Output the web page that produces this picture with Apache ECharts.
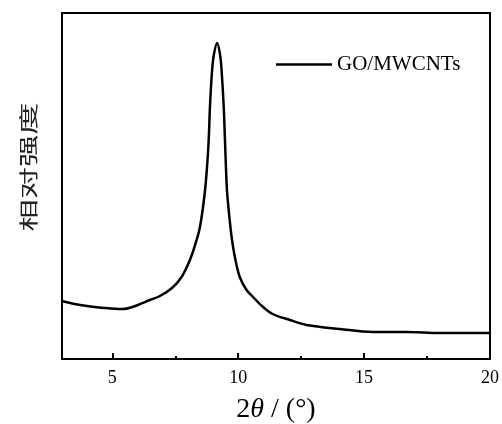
<!DOCTYPE html>
<html>
<head>
<meta charset="utf-8">
<script src="https://cdn.jsdelivr.net/npm/echarts@6/dist/echarts.min.js"></script>
<style>html,body{margin:0;padding:0;background:#fff}#c{width:502px;height:424px}</style>
</head>
<body>
<div id="c"></div>
<script>
// 2θ (degrees)
var twoTheta = [3.00,3.50,4.00,4.70,5.40,6.02,6.49,6.89,7.37,7.75,8.08,8.31,8.48,8.67,8.78,8.83,8.88,8.96,9.03,9.16,
                9.28,9.34,9.42,9.47,9.51,9.56,9.69,9.77,9.89,10.06,10.33,10.59,10.94,11.37,12.05,12.72,14.03,15.34,16.69,18.00,19.98];
// relative intensity (a.u.)
var intensity = [58,55,53,51,50,54,59,63,71,82,99,116,132,166,199,221,254,288,304,316,
                 304,288,254,221,193,166,132,116,99,82,69,62,53,45,39,34,30,27,27,26,26];
var seriesName = 'GO/MWCNTs';
var majorTicks = [5,10,15,20];
var minorTicks = [7.5,12.5,17.5];

var data = twoTheta.map(function(x,i){return [x,intensity[i]];});
var chart = echarts.init(document.getElementById('c'));
var serif = 'Liberation Serif, Times New Roman, serif';
chart.setOption({
  animation:false,
  grid:{left:62,right:12,top:13,bottom:65,containLabel:false,outerBoundsMode:'none',show:true,borderColor:'#000',borderWidth:2,backgroundColor:'transparent'},
  legend:{
    data:[{name:seriesName,icon:'rect'}],left:271,top:49,itemWidth:56,itemHeight:2.5,
    textStyle:{fontFamily:serif,fontSize:21,color:'#000'},
    itemStyle:{color:'#000'}
  },
  xAxis:[{
    type:'value',min:3,max:20,
    axisLine:{show:false},
    splitLine:{show:false},
    axisTick:{show:true,inside:true,length:6,lineStyle:{color:'#000',width:2},customValues:majorTicks},
    axisLabel:{fontFamily:serif,fontSize:18,color:'#000',margin:10,customValues:majorTicks},
    name:'2{i|θ} / (°)',nameLocation:'middle',nameGap:37,
    nameTextStyle:{fontFamily:serif,fontSize:28,color:'#000',rich:{i:{fontFamily:serif,fontStyle:'italic',fontSize:28,color:'#000'}}}
  },{
    type:'value',min:3,max:20,position:'bottom',
    axisLine:{show:false},splitLine:{show:false},
    axisTick:{show:true,inside:true,length:3,lineStyle:{color:'#000',width:2},customValues:minorTicks},
    axisLabel:{show:false}
  }],
  yAxis:{type:'value',min:0,max:346,axisLine:{show:false},axisTick:{show:false},axisLabel:{show:false},splitLine:{show:false}},
  graphic:[{
    type:'text',x:29,y:167,rotation:Math.PI/2,scaleX:1.7,scaleY:1,
    style:{text:'相对强度',fontFamily:'Noto Sans CJK SC',fontSize:19,fill:'#222',align:'center',verticalAlign:'middle'}
  }],
  series:[{
    name:seriesName,type:'line',data:data,showSymbol:false,symbol:'none',
    smooth:0.35,
    lineStyle:{color:'#000',width:2.5},itemStyle:{color:'#000'}
  }]
});
</script>
</body>
</html>
